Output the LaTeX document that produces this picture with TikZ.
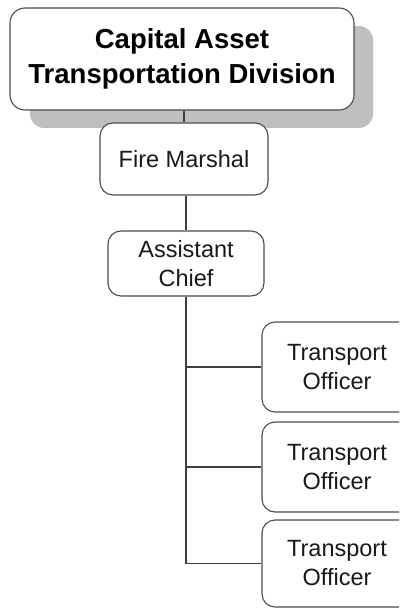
\documentclass[tikz,border=0pt]{standalone}
\usepackage{fontspec}
\setmainfont{Liberation Sans}
\begin{document}
\begin{tikzpicture}[x=1pt,y=-1pt,
  orgbox/.style={draw=black!70, line width=1.1pt, fill=white, rounded corners=13pt,
    align=center, inner sep=0pt, text=black!90},
  small/.style={font=\fontsize{23.5}{29}\selectfont},
  link/.style={draw=black!75, line width=1.1pt}]
  \useasboundingbox (0,0) rectangle (399,609);
  \clip (0,0) rectangle (399,609);
  % drop shadow of the head box
  \fill[black!25, rounded corners=14pt] (30,26) rectangle (373,128);
  % head box
  \node[orgbox, rounded corners=15pt, minimum width=344pt, minimum height=102pt,
    font=\fontsize{27.5}{35}\selectfont\bfseries, text=black] (top) at (182,59)
    {Capital Asset\\Transportation Division};
  % chain of command
  \node[orgbox, small, minimum width=168pt, minimum height=72pt] (fm) at (184,159) {Fire Marshal};
  \node[orgbox, small, minimum width=156pt, minimum height=65pt] (ac) at (186,263.5) {Assistant\\Chief};
  \node[orgbox, small, minimum width=150pt, minimum height=90pt] (to1) at (337,367) {Transport\\Officer};
  \node[orgbox, small, minimum width=150pt, minimum height=90pt] (to2) at (337,467) {Transport\\Officer};
  \node[orgbox, small, minimum width=150pt, minimum height=87pt] (to3) at (337,563.5) {Transport\\Officer};
  % connectors
  \draw[link] (top.south -| fm.north) -- (fm.north);
  \draw[link] (fm.south -| ac.north) -- (ac.north);
  \draw[link] (ac.south) |- (to1.west);
  \draw[link] (ac.south) |- (to2.west);
  \draw[link] (ac.south) |- (to3.west);
\end{tikzpicture}
\end{document}
